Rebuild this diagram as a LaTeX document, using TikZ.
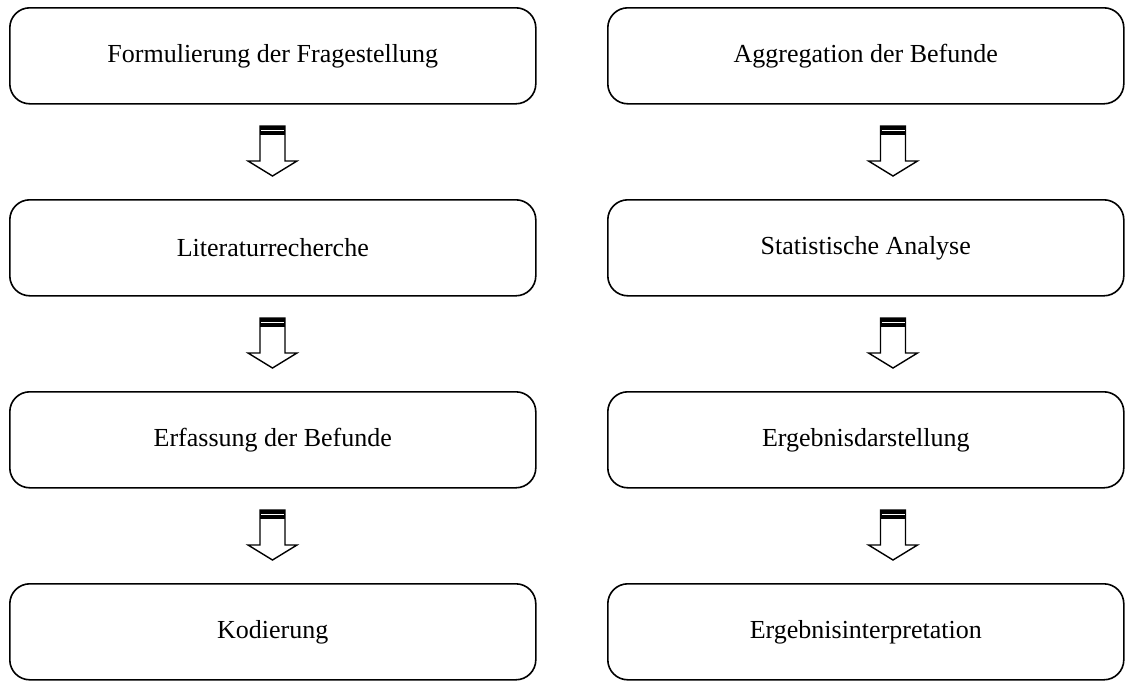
\documentclass[tikz,border=0pt]{standalone}
\usepackage{fontspec}
\setmainfont{Liberation Serif}
\begin{document}
\begin{tikzpicture}[x=1pt,y=-1pt,
  stepbox/.style={draw, line width=1.6pt, rounded corners=20pt, minimum width=526pt, minimum height=96pt, inner sep=0pt, anchor=north west, font=\fontsize{26}{30}\selectfont},
  arrowline/.style={draw, line width=1.4pt, fill=white, line join=miter}]
\useasboundingbox (0,0) rectangle (1125,681);
\node[stepbox] (l1) at (9,7) {Formulierung der Fragestellung};
\node[stepbox] (l2) at (9,199) {Literaturrecherche};
\node[stepbox] (l3) at (9,391) {Erfassung der Befunde};
\node[stepbox] (l4) at (9,583) {Kodierung};
\node[stepbox, minimum width=516pt] (r1) at (607,7) {Aggregation der Befunde};
\node[stepbox, minimum width=516pt] (r2) at (607,199) {Statistische Analyse};
\node[stepbox, minimum width=516pt] (r3) at (607,391) {Ergebnisdarstellung};
\node[stepbox, minimum width=516pt] (r4) at (607,583) {Ergebnisinterpretation};
\newcommand{\blockarrow}[2]{%
  \draw[arrowline] (#1-12.5,#2) -- (#1+12.5,#2) -- (#1+12.5,#2+35) -- (#1+24.5,#2+35) -- (#1,#2+50) -- (#1-24.5,#2+35) -- (#1-12.5,#2+35) -- cycle;
  \fill (#1-12.5,#2) rectangle (#1+12.5,#2+9);
  \draw[white, line width=0.8pt] (#1-11.5,#2+4.5) -- (#1+11.5,#2+4.5);
}
\blockarrow{272.5}{126}
\blockarrow{272.5}{318}
\blockarrow{272.5}{510}
\blockarrow{893}{126}
\blockarrow{893}{318}
\blockarrow{893}{510}
\end{tikzpicture}
\end{document}
